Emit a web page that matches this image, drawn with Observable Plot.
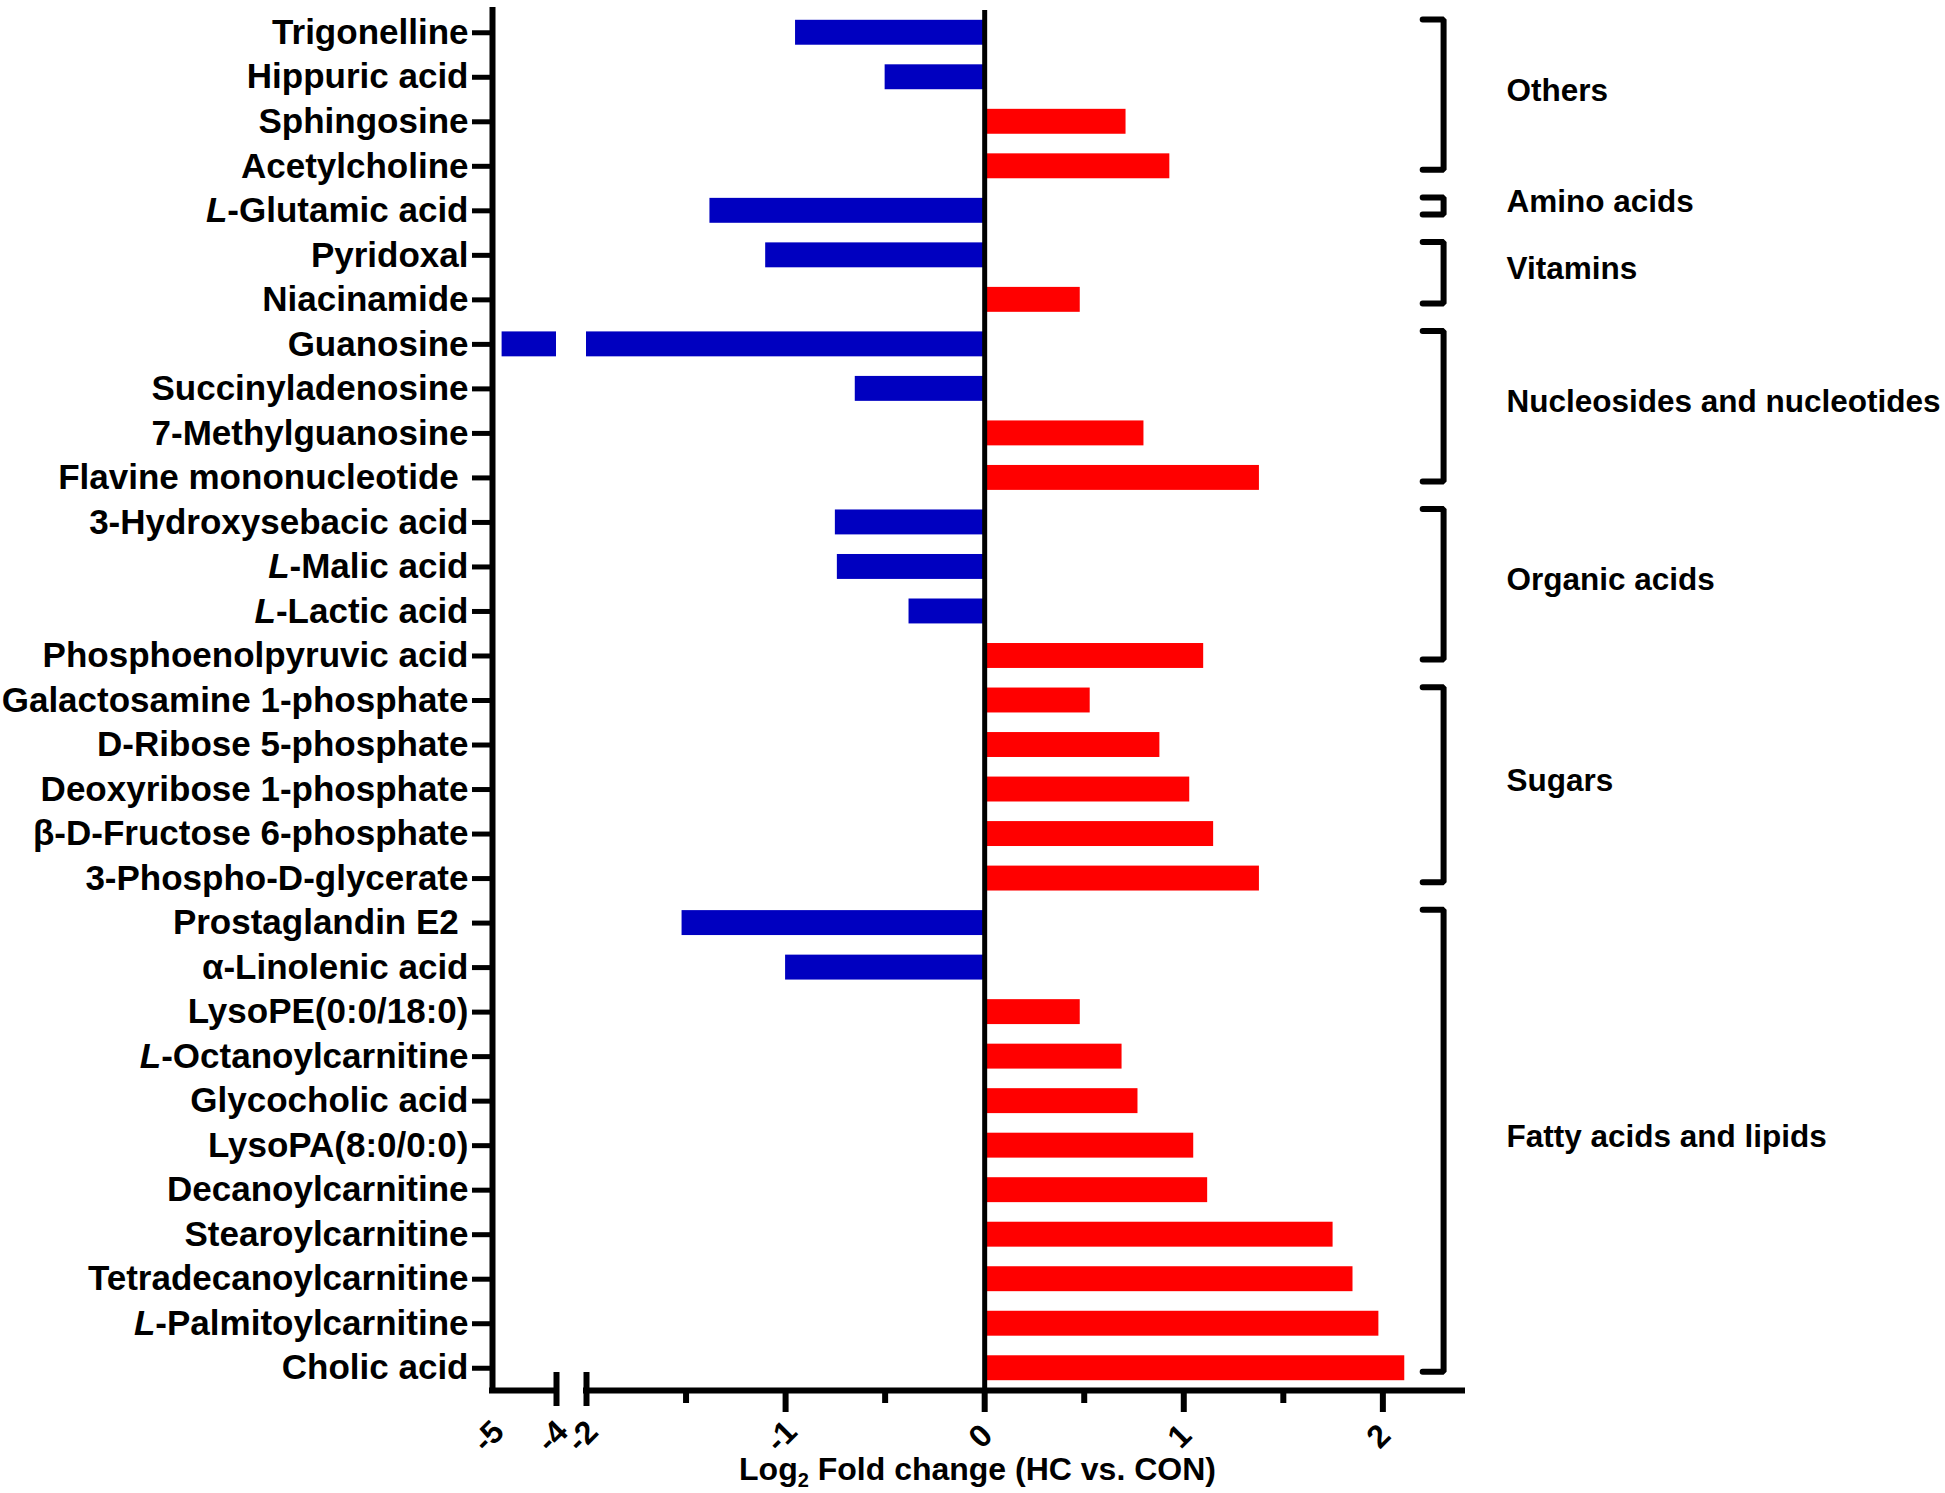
<!DOCTYPE html>
<html>
<head>
<meta charset="utf-8">
<script src="https://cdn.jsdelivr.net/npm/d3@7"></script>
<script src="https://cdn.jsdelivr.net/npm/@observablehq/plot@0.6"></script>
<style>
  html, body { margin: 0; padding: 0; background: #ffffff; }
  #chart { width: 1945px; height: 1493px; overflow: hidden; }
</style>
</head>
<body>
<div id="chart"></div>
<script>
// ---------------- data ----------------
const metabolites = [
  "Trigonelline", "Hippuric acid", "Sphingosine", "Acetylcholine",
  "L-Glutamic acid",
  "Pyridoxal", "Niacinamide",
  "Guanosine", "Succinyladenosine", "7-Methylguanosine", "Flavine mononucleotide ",
  "3-Hydroxysebacic acid", "L-Malic acid", "L-Lactic acid", "Phosphoenolpyruvic acid",
  "Galactosamine 1-phosphate", "D-Ribose 5-phosphate", "Deoxyribose 1-phosphate",
  "β-D-Fructose 6-phosphate", "3-Phospho-D-glycerate",
  "Prostaglandin E2 ", "α-Linolenic acid", "LysoPE(0:0/18:0)", "L-Octanoylcarnitine",
  "Glycocholic acid", "LysoPA(8:0/0:0)", "Decanoylcarnitine", "Stearoylcarnitine",
  "Tetradecanoylcarnitine", "L-Palmitoylcarnitine", "Cholic acid"
];
const log2FC = [
  -0.95, -0.50, 0.71, 0.93,
  -1.38,
  -1.10, 0.48,
  -4.85, -0.65, 0.80, 1.38,
  -0.75, -0.74, -0.38, 1.10,
  0.53, 0.88, 1.03,
  1.15, 1.38,
  -1.52, -1.00, 0.48, 0.69,
  0.77, 1.05, 1.12, 1.75,
  1.85, 1.98, 2.11
];
const groupNames = ["Others", "Amino acids", "Vitamins", "Nucleosides and nucleotides",
                    "Organic acids", "Sugars", "Fatty acids and lipids"];
const groupFirst = ["Trigonelline", "L-Glutamic acid", "Pyridoxal", "Guanosine",
                    "3-Hydroxysebacic acid", "Galactosamine 1-phosphate", "Prostaglandin E2 "];
const groupLast  = ["Acetylcholine", "L-Glutamic acid", "Niacinamide", "Flavine mononucleotide ",
                    "Phosphoenolpyruvic acid", "3-Phospho-D-glycerate", "Cholic acid"];
const xTickLabels = [-5, -4, -2, -1, 0, 1, 2];
const xMajorTicks = [-1, 0, 1, 2];
const xMinorTicks = [-1.5, -0.5, 0.5, 1.5];
const axisBreak = [-4, -2];
const xDomain = [-5, -4, -2, 2.4];
const axisTitle = "Log2 Fold change (HC vs. CON)";

// ---------------- layout ----------------
const W = 1945, H = 1493;
const marginTop = 10, marginBottom = 103, marginLeft = 492, marginRight = 483;
const blue = "#0000c0", red = "#ff0000";
const n = metabolites.length;
const yTop = -0.5, yBottom = n - 0.5;
const step = (H - marginTop - marginBottom) / n;
const barHalf = 0.28;

const rows = metabolites.map((name, i) => ({name, i, value: log2FC[i]}));
const segments = rows.flatMap(d => d.value < axisBreak[1]
  ? [{...d, x1: d.value, x2: axisBreak[0]}, {...d, x1: axisBreak[1], x2: 0}]
  : [{...d, x1: Math.min(0, d.value), x2: Math.max(0, d.value)}]);

const idx = new Map(metabolites.map((m, i) => [m, i]));
const brackets = groupNames.map((name, k) => {
  const a = idx.get(groupFirst[k]), b = idx.get(groupLast[k]);
  return {name, top: a - 0.3, bottom: b + 0.08, mid: (a + b) / 2 - 0.2};
});
const bracketX = 2.305, serifX = 2.2;
const bracketPts = brackets.flatMap(b => [
  {name: b.name, x: serifX, y: b.top},
  {name: b.name, x: bracketX, y: b.top},
  {name: b.name, x: bracketX, y: b.bottom},
  {name: b.name, x: serifX, y: b.bottom}
]);
const axisSegments = [[xDomain[0], axisBreak[0]], [axisBreak[1], xDomain[xDomain.length - 1]]];

const chart = Plot.plot({
  width: W, height: H,
  marginTop, marginBottom, marginLeft, marginRight,
  style: {fontFamily: "'Liberation Sans', Arial, Helvetica, sans-serif", background: "#ffffff", color: "#000000"},
  x: {type: "linear", domain: xDomain,
      range: [marginLeft, marginLeft + 64, marginLeft + 94, W - marginRight]},
  y: {type: "linear", domain: [yTop, yBottom], range: [marginTop, H - marginBottom]},
  marks: [
    Plot.rect(segments, {
      x1: "x1", x2: "x2",
      y1: d => d.i - barHalf, y2: d => d.i + barHalf,
      fill: d => d.value < 0 ? blue : red
    }),
    // zero line
    Plot.ruleX([0], {y1: yTop, y2: yBottom, strokeWidth: 5}),
    // y axis line
    Plot.ruleX([xDomain[0]], {y1: yTop, y2: yBottom, strokeWidth: 6, strokeLinecap: "square"}),
    // x axis line with break
    Plot.ruleY(axisSegments, {y: () => yBottom, x1: d => d[0], x2: d => d[1], strokeWidth: 6, strokeLinecap: "square"}),
    // break marks
    Plot.ruleX(axisBreak, {y1: yBottom - 18 / step, y2: yBottom + 16 / step, strokeWidth: 6}),
    // x ticks
    Plot.axisX({ticks: xMajorTicks, tickSize: 22, strokeWidth: 6, tickFormat: () => "", label: null}),
    Plot.axisX({ticks: xMinorTicks, tickSize: 13, strokeWidth: 6, tickFormat: () => "", label: null}),
    Plot.axisX({
      ticks: xTickLabels, tickSize: 0, tickPadding: 46, tickRotate: -45,
      textAnchor: "middle", lineAnchor: "middle", dx: -4,
      fontSize: 32, fontWeight: "bold", label: null,
      tickFormat: d => d < 0 ? "-" + (-d) : String(d)
    }),
    // y axis ticks + labels
    Plot.axisY({
      ticks: d3.range(n), tickSize: 20, tickPadding: 4, strokeWidth: 5,
      fontSize: 35, fontWeight: "bold", label: null,
      tickFormat: i => metabolites[i].replace(/ $/, "\u00a0")
    }),
    // brackets
    Plot.line(bracketPts, {x: "x", y: "y", z: "name", stroke: "#000000", strokeWidth: 6,
      strokeLinecap: "round", strokeLinejoin: "miter"}),
    Plot.text(brackets, {
      y: "mid", text: "name",
      frameAnchor: "right", dx: 44, textAnchor: "start",
      fontSize: 31.5, fontWeight: "bold", fill: "#000000"
    }),
    // axis title
    Plot.text([axisTitle], {
      text: d => d, frameAnchor: "bottom", dy: 89,
      fontSize: 32, fontWeight: "bold", fill: "#000000"
    })
  ]
});

document.getElementById("chart").appendChild(chart);

// italic L- prefixes and subscript in title
const NS = "http://www.w3.org/2000/svg";
chart.querySelectorAll("text").forEach(t => {
  const s = t.textContent;
  if (s.startsWith("L-")) {
    t.textContent = "";
    const a = document.createElementNS(NS, "tspan");
    a.setAttribute("font-style", "italic");
    a.textContent = "L";
    const b = document.createElementNS(NS, "tspan");
    b.textContent = s.slice(1);
    t.appendChild(a); t.appendChild(b);
  } else if (s === axisTitle) {
    t.textContent = "";
    const a = document.createElementNS(NS, "tspan");
    a.textContent = "Log";
    const b = document.createElementNS(NS, "tspan");
    b.setAttribute("font-size", "20");
    b.setAttribute("dy", "7");
    b.textContent = "2";
    const c = document.createElementNS(NS, "tspan");
    c.setAttribute("dy", "-7");
    c.textContent = s.slice(4);
    t.appendChild(a); t.appendChild(b); t.appendChild(c);
  }
});
</script>
</body>
</html>
